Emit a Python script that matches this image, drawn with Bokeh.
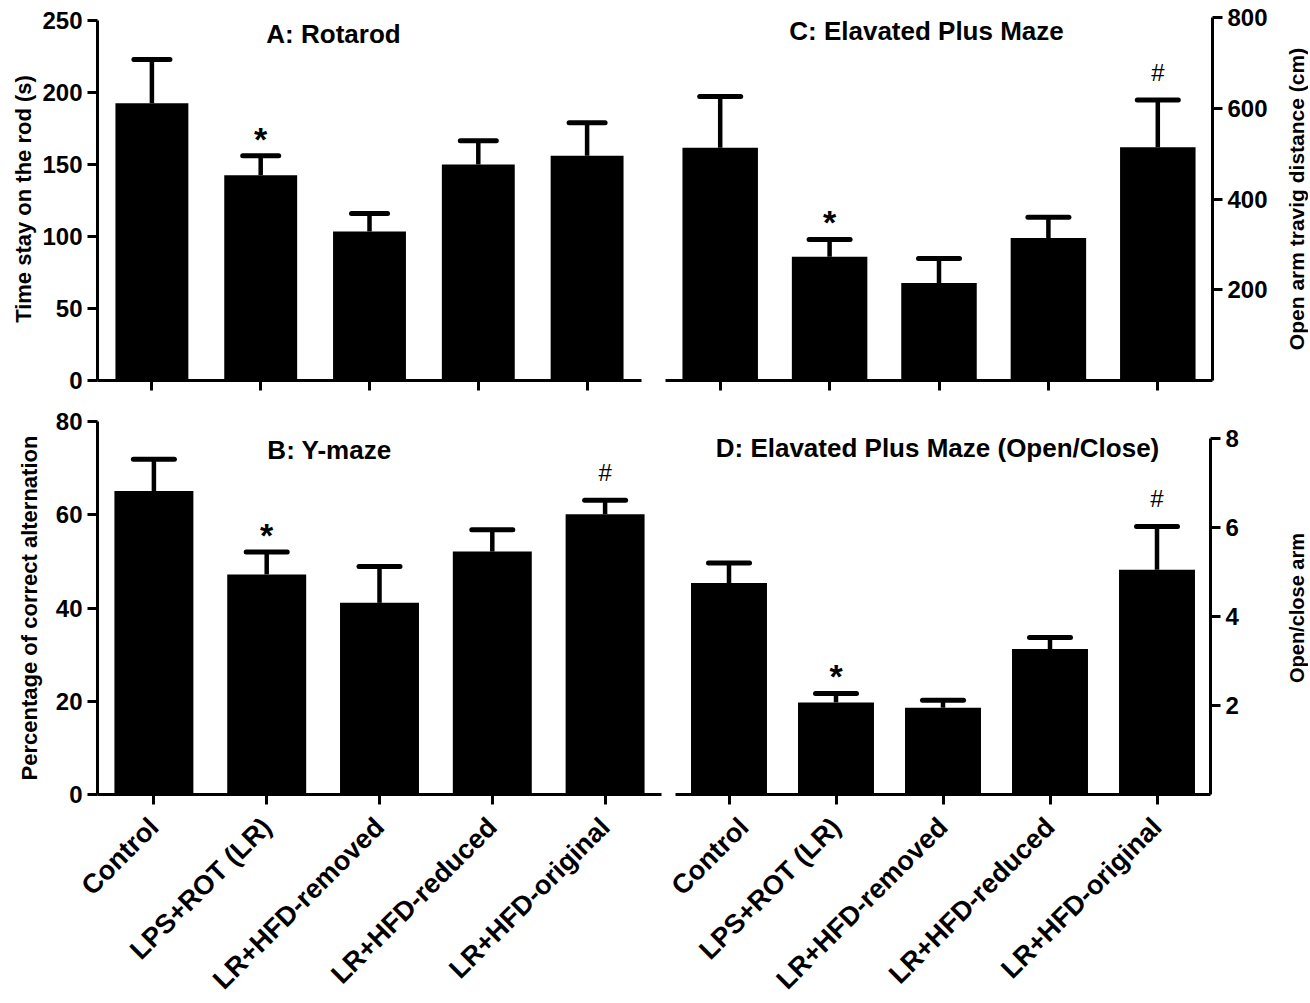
import math
from bokeh.plotting import figure
from bokeh.models import (FactorRange, Range1d, FixedTicker, Whisker, TeeHead, ColumnDataSource,
                          Label)
from bokeh.layouts import column, row
from bokeh.embed import file_html
from bokeh.resources import INLINE
from bokeh.core.properties import value

# ---------------- data ----------------
categories = ["Control", "LPS+ROT (LR)", "LR+HFD-removed", "LR+HFD-reduced", "LR+HFD-original"]

rotarod_mean = [192.5, 142.5, 103.5, 150.0, 156.0]
rotarod_sem = [30.5, 13.5, 12.5, 16.5, 23.0]
rotarod_marks = ["", "*", "", "", ""]

ymaze_mean = [65.1, 47.2, 41.1, 52.1, 60.1]
ymaze_sem = [6.8, 4.8, 7.8, 4.7, 3.0]
ymaze_marks = ["", "*", "", "", "#"]

epm_mean = [513.0, 273.0, 215.0, 314.0, 514.0]
epm_sem = [113.0, 38.0, 54.0, 46.0, 104.0]
epm_marks = ["", "*", "", "", "#"]

epm_ratio_mean = [4.75, 2.07, 1.95, 3.27, 5.05]
epm_ratio_sem = [0.45, 0.20, 0.17, 0.26, 0.97]
epm_ratio_marks = ["", "*", "", "", "#"]

rotarod_ticks = [0, 50, 100, 150, 200, 250]
ymaze_ticks = [0, 20, 40, 60, 80]
epm_ticks = [200, 400, 600, 800]
epm_ratio_ticks = [2, 4, 6, 8]

FONT = "Liberation Sans"


def style_axis_title(ax, text, size, standoff):
    ax.axis_label = text
    ax.axis_label_text_font = FONT
    ax.axis_label_text_font_style = "bold"
    ax.axis_label_text_font_size = size
    ax.axis_label_text_color = "black"
    ax.axis_label_standoff = standoff


def panel(means, sems, marks, title, yrange, ybounds, yticks, ylabel, side, show_xlabels,
          frame_w, frame_h, borders, bar_w, cap_w, title_pos, label_standoff, ylabel_size):
    bl, br, bt, bb = borders
    p = figure(x_range=FactorRange(*categories), y_range=Range1d(*yrange),
               frame_width=frame_w, frame_height=frame_h,
               min_border_left=bl, min_border_right=br, min_border_top=bt, min_border_bottom=bb,
               output_backend="svg", toolbar_location=None, y_axis_location=side,
               title=None)
    p.outline_line_color = None
    p.background_fill_color = "white"
    p.border_fill_color = "white"
    p.xgrid.visible = False
    p.ygrid.visible = False

    upper = [m + s for m, s in zip(means, sems)]
    src = ColumnDataSource(dict(x=categories, top=means, upper=upper))
    p.vbar(x="x", top="top", bottom=0, width=bar_w, source=src,
           fill_color="black", line_color=None)

    w = Whisker(base="x", upper="upper", lower="top", source=src, dimension="height",
                line_width=4.5, line_color="black",
                upper_head=TeeHead(size=cap_w, line_width=5, line_color="black", line_cap="round"),
                lower_head=None)
    p.add_layout(w)

    star_x = [c for c, m in zip(categories, marks) if m == "*"]
    star_y = [u for u, m in zip(upper, marks) if m == "*"]
    hash_x = [c for c, m in zip(categories, marks) if m == "#"]
    hash_y = [u for u, m in zip(upper, marks) if m == "#"]
    if star_x:
        p.text(x=star_x, y=star_y, text=["*"] * len(star_x), text_font=value(FONT),
               text_font_size="34px", text_font_style="bold", text_align="center",
               text_baseline="alphabetic", y_offset=-17, text_color="black")
    if hash_x:
        p.text(x=hash_x, y=hash_y, text=["#"] * len(hash_x), text_font=value(FONT),
               text_font_size="24px", text_font_style="normal", text_align="center",
               text_baseline="alphabetic", y_offset=-28, text_color="black")

    for ax in (p.xaxis[0], p.yaxis[0]):
        ax.axis_line_width = 3
        ax.axis_line_color = "black"
        ax.major_tick_line_width = 3
        ax.major_tick_line_color = "black"
        ax.major_tick_out = 10
        ax.major_tick_in = 0
        ax.minor_tick_out = 0
        ax.minor_tick_in = 0
        ax.major_label_text_font = FONT
        ax.major_label_text_font_style = "bold"
        ax.major_label_text_color = "black"

    ya = p.yaxis[0]
    ya.ticker = FixedTicker(ticks=yticks)
    ya.bounds = ybounds
    ya.major_label_text_font_size = "24px"
    ya.major_label_standoff = 5
    if side == "left":
        style_axis_title(ya, ylabel, ylabel_size, label_standoff)

    xa = p.xaxis[0]
    if show_xlabels:
        xa.major_label_text_font_size = "27px"
        xa.major_label_orientation = math.pi / 4
        xa.major_label_standoff = 18
    else:
        xa.major_label_text_color = None
        xa.major_label_standoff = 0

    p.add_layout(Label(x=title_pos[0], y=title_pos[1], x_units="screen", y_units="screen",
                       text=title, text_font=FONT, text_font_size="26px",
                       text_font_style="bold", text_align="center", text_baseline="middle",
                       text_color="black"))
    return p


def side_title(text, size, yrange, frame_h, bt, bb, left_border):
    """A narrow companion figure whose bare left axis carries the right-hand axis title,
    reading bottom to top, centred on the neighbouring panel's frame."""
    q = figure(x_range=Range1d(0, 1), y_range=Range1d(*yrange),
               frame_width=1, frame_height=frame_h,
               min_border_left=left_border, min_border_right=0, min_border_top=bt,
               min_border_bottom=bb, output_backend="svg", toolbar_location=None, title=None)
    q.outline_line_color = None
    q.background_fill_color = "white"
    q.border_fill_color = "white"
    q.xgrid.visible = False
    q.ygrid.visible = False
    q.xaxis.visible = False
    ax = q.yaxis[0]
    ax.ticker = FixedTicker(ticks=[])
    ax.axis_line_color = None
    ax.major_tick_out = 0
    ax.major_tick_in = 0
    ax.minor_tick_out = 0
    ax.minor_tick_in = 0
    ax.major_label_standoff = 0
    style_axis_title(ax, text, size, 0)
    return q


# row 1: frames from y=17 to y=380 ; row 2: frames from y=421 to y=794
pA = panel(rotarod_mean, rotarod_sem, rotarod_marks, "A: Rotarod", (0, 252.1), (0, 250),
           rotarod_ticks, "Time stay on the rod (s)", "left", False,
           544, 363, (97, 14, 17, 20), 0.67, 36, (236, 347), 3, "22px")
pC = panel(epm_mean, epm_sem, epm_marks, "C: Elavated Plus Maze", (0, 800), (0, 800),
           epm_ticks, "Open arm travig distance (cm)", "right", False,
           547, 363, (10, 60, 17, 20), 0.69, 41, (261, 350), 0, "21px")
pCt = side_title("Open arm travig distance (cm)", "21px", (0, 800), 363, 17, 20, 35)

pB = panel(ymaze_mean, ymaze_sem, ymaze_marks, "B: Y-maze", (0, 80), (0, 80),
           ymaze_ticks, "Percentage of correct alternation", "left", True,
           564, 373, (97, 4, 21, 207), 0.70, 41, (232, 345), 11, "22px")
pD = panel(epm_ratio_mean, epm_ratio_sem, epm_ratio_marks, "D: Elavated Plus Maze (Open/Close)",
           (0, 8.382), (0, 8), epm_ratio_ticks, "Open/close arm", "right", True,
           535, 373, (10, 62, 21, 207), 0.71, 41, (262, 347), 0, "20px")
pDt = side_title("Open/close arm", "20px", (0, 8.382), 373, 21, 207, 35)

layout = column(row(pA, pC, pCt), row(pB, pD, pDt))
open("out.html", "w").write(file_html(layout, INLINE))
